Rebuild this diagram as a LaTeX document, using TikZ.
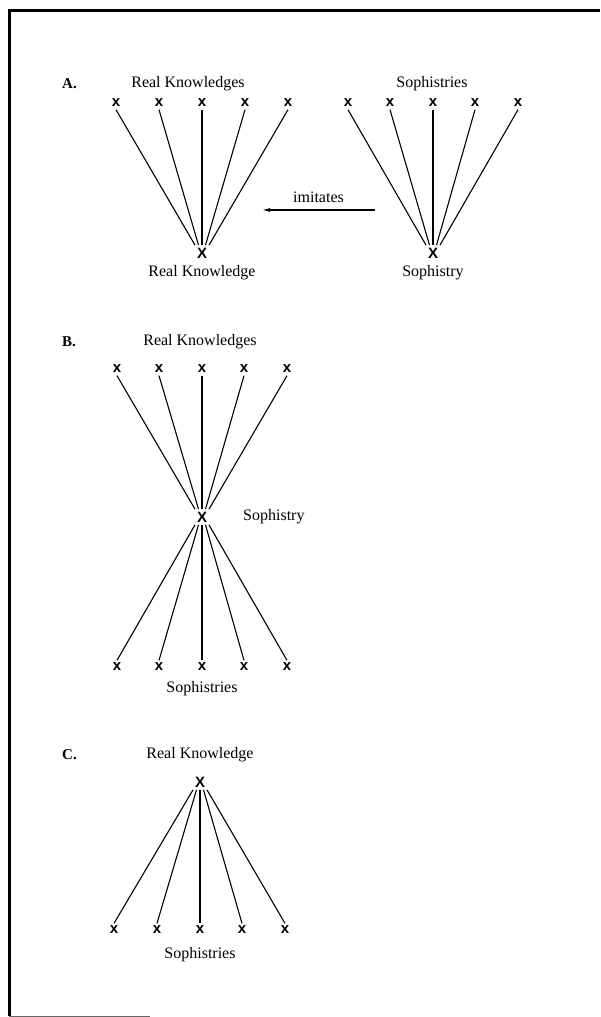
\documentclass[tikz,border=0pt]{standalone}
\usepackage{fontspec}
\setmainfont{Liberation Serif}
\setsansfont{Liberation Sans}
\usetikzlibrary{arrows.meta}
\begin{document}
\begin{tikzpicture}[x=1pt,y=-1pt,
  lbl/.style={font=\fontsize{16}{18}\selectfont, inner sep=0pt},
  hd/.style={font=\bfseries\fontsize{15}{17}\selectfont, inner sep=0pt, anchor=west},
  xs/.style={font=\sffamily\bfseries\fontsize{15}{15}\selectfont, inner sep=2.5pt},
  xb/.style={font=\sffamily\bfseries\fontsize{15}{15}\selectfont, inner sep=2.5pt},
  ln/.style={line width=1.1pt},
  frame/.style={line width=3pt}]
\useasboundingbox (0,0) rectangle (600,1017);
% frame
\draw[frame] (600,10.5) -- (9.5,10.5) -- (9.5,1016);
\draw[line width=1pt, black!60] (9,1016) -- (150,1016);

% ---------- A ----------
\node[hd] (hA) at (62,84) {A.};
\node[lbl] (rkA) at (188,84) {Real Knowledges};
\node[lbl] (spA) at (432,84) {Sophistries};
\foreach \i/\x in {1/116,2/159,3/202,4/245,5/288}
  \node[xs] (a\i) at (\x,103) {x};
\foreach \i/\x in {1/348,2/390,3/433,4/475,5/518}
  \node[xs] (s\i) at (\x,103) {x};
\node[xb] (ca) at (202,253) {X};
\node[xb] (cs) at (433,253) {X};
\node[lbl] (lrk) at (202,273) {Real Knowledge};
\node[lbl] (lsp) at (433,273) {Sophistry};
\foreach \i/\o in {1/-7,2/-3.5,3/0,4/3.5,5/7} {
  \draw[ln] (a\i.south) -- ([xshift=\o pt]ca.north);
  \draw[ln] (s\i.south) -- ([xshift=\o pt]cs.north);
}
\coordinate (arS) at (375,210);
\coordinate (arE) at (262,210);
\draw[ln, -{Latex[length=8pt,width=4pt]}] (arS) -- (arE)
  node[midway, above=7pt, lbl] (imit) {imitates};

% ---------- B ----------
\node[hd] (hB) at (62,342) {B.};
\node[lbl] (rkB) at (200,342) {Real Knowledges};
\foreach \i/\x in {1/117,2/159,3/202,4/244,5/287} {
  \node[xs] (bt\i) at (\x,369) {x};
  \node[xs] (bb\i) at (\x,667) {x};
}
\node[xb] (cb) at (202,517) {X};
\node[lbl, anchor=west] (lspB) at (243,517) {Sophistry};
\node[lbl] (spB) at (202,689) {Sophistries};
\foreach \i/\o in {1/-7,2/-3.5,3/0,4/3.5,5/7} {
  \draw[ln] (bt\i.south) -- ([xshift=\o pt]cb.north);
  \draw[ln] ([xshift=\o pt]cb.south) -- (bb\i.north);
}

% ---------- C ----------
\node[hd] (hC) at (62,755) {C.};
\node[lbl] (rkC) at (200,755) {Real Knowledge};
\node[xb] (cc) at (200,782) {X};
\foreach \i/\x in {1/114,2/157,3/200,4/242,5/285}
  \node[xs] (cb\i) at (\x,930) {x};
\node[lbl] (spC) at (200,955) {Sophistries};
\foreach \i/\o in {1/-7,2/-3.5,3/0,4/3.5,5/7}
  \draw[ln] ([xshift=\o pt]cc.south) -- (cb\i.north);
\end{tikzpicture}
\end{document}
